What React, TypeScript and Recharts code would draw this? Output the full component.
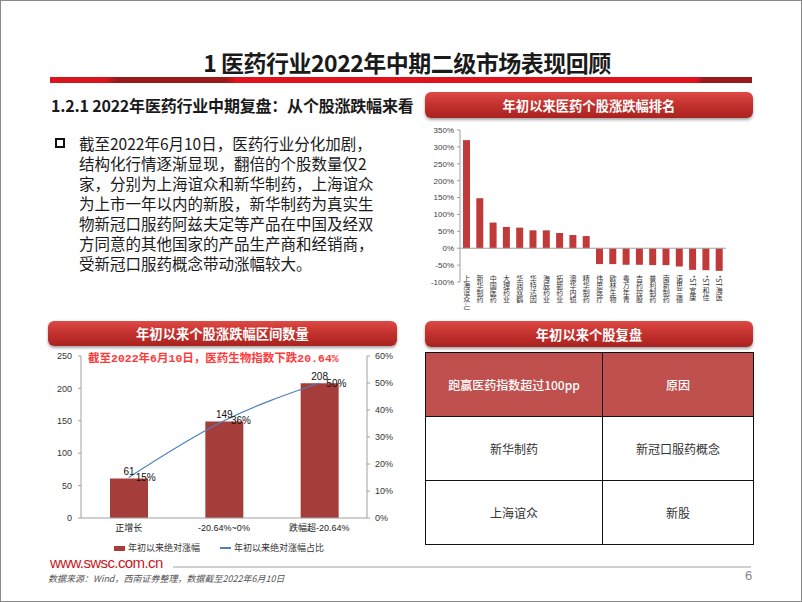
import React from 'react';
import { BarChart, Bar, XAxis, YAxis, ReferenceLine, ComposedChart, Line, LabelList } from 'recharts';

const stockNames = ['上海谊众-U', '新华制药', '中国医药', '大理药业', '华润双鹤', '华特达因', '海辰药业', '拓新药业', '澳华内镜', '精华制药', '伟思医疗', '欧林生物', '粤万年青', '吉药控股', '普利制药', '南新制药', '诺思兰德', '*ST宜康', '*ST和佳', '*ST海医'];
const stockChanges = [320, 148, 76, 63, 61, 53, 53, 45, 39, 36, -47, -47, -49, -49, -50, -50, -54, -64, -65, -67];
const rankTicks = [-100, -50, 0, 50, 100, 150, 200, 250, 300, 350];

const rangeCategories = ['正增长', '-20.64%~0%', '跌幅超-20.64%'];
const rangeCounts = [61, 149, 208];
const rangeShares = [15, 36, 50];
const countTicks = [0, 50, 100, 150, 200, 250];
const shareTicks = [0, 10, 20, 30, 40, 50, 60];

const slideTitle = '1 医药行业2022年中期二级市场表现回顾';
const subTitle = '1.2.1 2022年医药行业中期复盘：从个股涨跌幅来看';
const bodyLines = [
  '截至2022年6月10日，医药行业分化加剧，',
  '结构化行情逐渐显现，翻倍的个股数量仅2',
  '家，分别为上海谊众和新华制药，上海谊众',
  '为上市一年以内的新股，新华制药为真实生',
  '物新冠口服药阿兹夫定等产品在中国及经双',
  '方同意的其他国家的产品生产商和经销商，',
  '受新冠口服药概念带动涨幅较大。',
];
const headerRank = '年初以来医药个股涨跌幅排名';
const headerRange = '年初以来个股涨跌幅区间数量';
const headerReview = '年初以来个股复盘';
const annotation = '截至2022年6月10日，医药生物指数下跌20.64%';
const legendBar = '年初以来绝对涨幅';
const legendLine = '年初以来绝对涨幅占比';
const tableHeader = ['跑赢医药指数超过100pp', '原因'];
const tableStocks = ['新华制药', '上海谊众'];
const tableReasons = ['新冠口服药概念', '新股'];
const siteUrl = 'www.swsc.com.cn';
const sourceNote = '数据来源：Wind，西南证券整理，数据截至2022年6月10日';
const pageNo = '6';

const rankData = stockNames.map((name, i) => ({ name, value: stockChanges[i] }));
const rangeData = rangeCategories.map((name, i) => ({ name, count: rangeCounts[i], share: rangeShares[i] }));

const CJK = "'Noto Sans CJK SC', 'Noto Sans', sans-serif";
const SANS = "'Liberation Sans', 'Noto Sans CJK SC', sans-serif";

const VTick = (props: any) => {
  const { x, y, payload } = props;
  return (
    <text x={x} y={y - 7} fontSize={7} fill="#333" fontFamily={CJK}
      style={{ writingMode: 'vertical-rl', textOrientation: 'mixed' } as any}>
      {payload.value}
    </text>
  );
};

const RedHeader = ({ left, top, width, height, text }: any) => (
  <div
    style={{
      position: 'absolute', left, top, width, height,
      borderRadius: 6,
      background: 'linear-gradient(#de4a45 0%, #c53330 45%, #a9221f 100%)',
      boxShadow: '0 2px 3px rgba(0,0,0,0.35)',
      color: '#fff', fontFamily: CJK, fontWeight: 700, fontSize: 13.3,
      display: 'flex', alignItems: 'center', justifyContent: 'center',
    }}
  >
    {text}
  </div>
);

export default function App() {
  const cellBase: React.CSSProperties = {
    border: '1.5px solid #111', textAlign: 'center', verticalAlign: 'middle',
    fontSize: 12, fontFamily: CJK, height: 63, padding: 0,
  };
  return (
    <div style={{ position: 'absolute', left: 0, top: 0, width: 802, height: 602, background: '#fff', overflow: 'hidden', fontFamily: CJK }}>
      <div style={{ position: 'absolute', left: 0, top: 0, width: 802, height: 602, boxSizing: 'border-box', border: '1px solid #8a8a8a' }} />
      {/* title */}
      <div style={{ position: 'absolute', left: 0, width: 802, top: 46, textAlign: 'center', fontSize: 23, fontWeight: 700, color: '#1a1a1a', lineHeight: '32px', letterSpacing: -0.5, paddingLeft: 12, boxSizing: 'border-box' }}>
        {slideTitle}
      </div>
      <div style={{ position: 'absolute', left: 50, top: 77, width: 702, height: 6, background: 'linear-gradient(100deg, #d8141c 0%, #d8141c 8%, #9a1a1a 9.5%, #9a1a1a 25%, #e0121b 26.5%, #e0121b 92%, #981a1a 93%, #981a1a 100%)' }} />
      {/* subtitle */}
      <div style={{ position: 'absolute', left: 51, top: 93, fontSize: 16, fontWeight: 700, color: '#1a1a1a', lineHeight: '24px', whiteSpace: 'nowrap', letterSpacing: -0.2 }}>
        {subTitle}
      </div>
      {/* bullet */}
      <div style={{ position: 'absolute', left: 55, top: 138, width: 10, height: 10, boxSizing: 'border-box', border: '2.5px solid #111' }} />
      <div style={{ position: 'absolute', left: 79, top: 133, fontSize: 15.5, color: '#1a1a1a', lineHeight: '20px' }}>
        {bodyLines.map((l, i) => (
          <div key={i} style={{ whiteSpace: 'nowrap' }}>{l}</div>
        ))}
      </div>

      {/* top-right chart */}
      <RedHeader left={425} top={92} width={328} height={26} text={headerRank} />
      <div style={{ position: 'absolute', left: 420, top: 120 }}>
        <BarChart width={320} height={200} data={rankData} margin={{ top: 10, right: 14, bottom: 0, left: 0 }}>
          <YAxis
            domain={[-100, 350]} ticks={rankTicks} width={40} interval={0}
            tickFormatter={(v: number) => `${v}%`}
            tick={{ fontSize: 8, fill: '#404040', fontFamily: SANS }}
            axisLine={{ stroke: '#a0a0a0' }} tickLine={{ stroke: '#a0a0a0' }} tickSize={3} tickMargin={3}
          />
          <XAxis dataKey="name" interval={0} height={38} tick={<VTick />} axisLine={false} tickLine={false} tickSize={0} tickMargin={0} />
          <ReferenceLine y={0} stroke="#a0a0a0" />
          <Bar dataKey="value" fill="#c03a3a" barSize={7} isAnimationActive={false} />
        </BarChart>
      </div>

      {/* bottom-left chart */}
      <RedHeader left={48} top={321} width={349} height={25} text={headerRange} />
      <div style={{ position: 'absolute', left: 20, top: 340 }}>
        <ComposedChart width={380} height={200} data={rangeData} margin={{ top: 16, right: 0, bottom: 0, left: 0 }}>
          <XAxis dataKey="name" interval={0} height={22}
            tick={{ fontSize: 9, fill: '#222', fontFamily: SANS }}
            axisLine={{ stroke: '#a0a0a0' }} tickLine={false} tickSize={0} tickMargin={7} />
          <YAxis yAxisId="l" domain={[0, 250]} ticks={countTicks} width={61} interval={0}
            tick={{ fontSize: 9, fill: '#333', fontFamily: SANS }}
            axisLine={{ stroke: '#a0a0a0' }} tickLine={{ stroke: '#a0a0a0' }} tickSize={3} tickMargin={6} />
          <YAxis yAxisId="r" orientation="right" domain={[0, 60]} ticks={shareTicks} width={33} interval={0}
            tickFormatter={(v: number) => `${v}%`}
            tick={{ fontSize: 9, fill: '#333', fontFamily: SANS }}
            axisLine={{ stroke: '#a0a0a0' }} tickLine={{ stroke: '#a0a0a0' }} tickSize={3} tickMargin={5} />
          <Bar yAxisId="l" dataKey="count" fill="#a53d3b" barSize={38} isAnimationActive={false}>
            <LabelList dataKey="count" position="top" offset={3} fontSize={10} fill="#111" fontFamily={SANS} />
          </Bar>
          <Line yAxisId="r" dataKey="share" type="monotone" stroke="#4f7fb8" strokeWidth={1.2} dot={false} isAnimationActive={false}>
            <LabelList dataKey="share" position="right" offset={7} fontSize={10} fill="#111" fontFamily={SANS} formatter={(v: any) => `${v}%`} />
          </Line>
        </ComposedChart>
      </div>
      <div style={{ position: 'absolute', left: 88, top: 351, fontSize: 11.5, fontWeight: 700, color: '#ff3a3a', fontFamily: "'Liberation Mono', 'Noto Sans CJK SC', monospace", whiteSpace: 'nowrap', lineHeight: '16px' }}>
        {annotation}
      </div>
      {/* legend */}
      <div style={{ position: 'absolute', left: 114, top: 541, fontSize: 9, color: '#333', display: 'flex', alignItems: 'center', whiteSpace: 'nowrap', lineHeight: '14px' }}>
        <span style={{ display: 'inline-block', width: 11, height: 5, background: '#a53d3b', marginRight: 3 }} />
        <span>{legendBar}</span>
        <span style={{ display: 'inline-block', width: 11, height: 1.5, background: '#4f7fb8', marginLeft: 20, marginRight: 3 }} />
        <span>{legendLine}</span>
      </div>

      {/* bottom-right table */}
      <RedHeader left={425} top={321} width={328} height={26} text={headerReview} />
      <table style={{ position: 'absolute', left: 425, top: 352, width: 328, borderCollapse: 'collapse', tableLayout: 'fixed' }}>
        <colgroup>
          <col style={{ width: 177 }} />
          <col style={{ width: 151 }} />
        </colgroup>
        <tbody>
          <tr>
            {tableHeader.map((h, i) => (
              <td key={i} style={{ ...cellBase, background: '#c0504d', color: '#fff', fontWeight: 500 }}>{h}</td>
            ))}
          </tr>
          {tableStocks.map((s, i) => (
            <tr key={i}>
              <td style={{ ...cellBase, color: '#333' }}>{s}</td>
              <td style={{ ...cellBase, color: '#333' }}>{tableReasons[i]}</td>
            </tr>
          ))}
        </tbody>
      </table>

      {/* footer */}
      <div style={{ position: 'absolute', left: 50, top: 555, fontSize: 15, color: '#c8161d', fontFamily: SANS, lineHeight: '15px', letterSpacing: -0.6 }}>{siteUrl}</div>
      <div style={{ position: 'absolute', left: 173, top: 566, width: 578, height: 2, background: '#cfcfcf' }} />
      <div style={{ position: 'absolute', left: 48, top: 573, fontSize: 9, fontStyle: 'italic', color: '#555', whiteSpace: 'nowrap', lineHeight: '12px' }}>{sourceNote}</div>
      <div style={{ position: 'absolute', left: 745, top: 568, fontSize: 13, color: '#888', fontFamily: SANS, lineHeight: '16px' }}>{pageNo}</div>
    </div>
  );
}
